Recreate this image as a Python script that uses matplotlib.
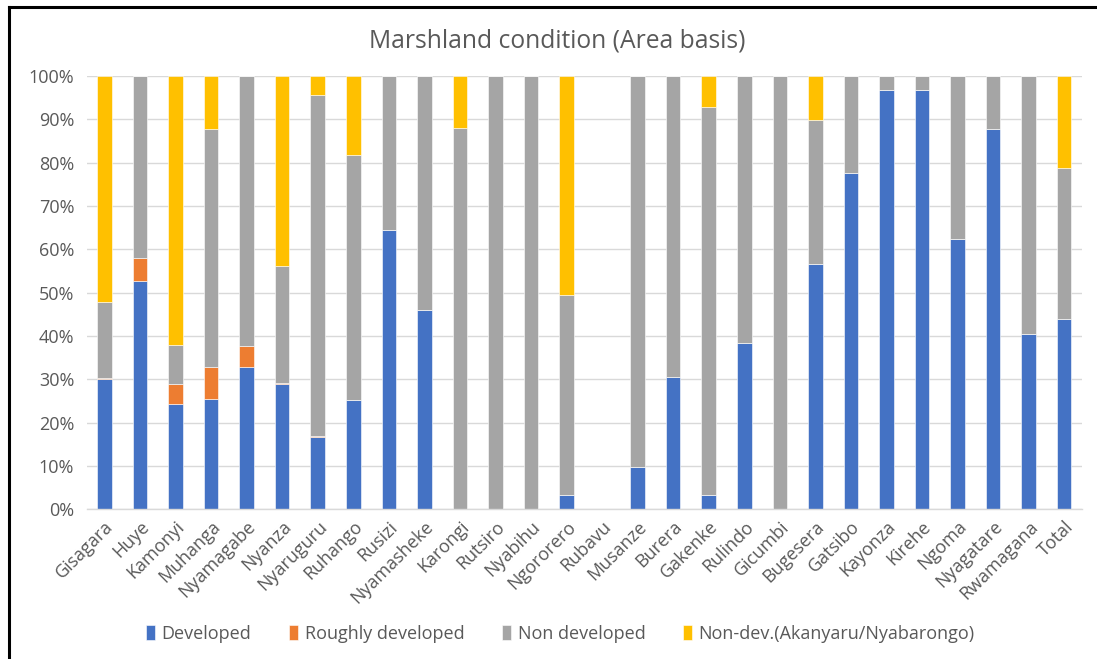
import matplotlib.pyplot as plt
import numpy as np
from matplotlib.lines import Line2D

# --- Data (percent of marshland area) ---
districts = ['Gisagara', 'Huye', 'Kamonyi', 'Muhanga', 'Nyamagabe', 'Nyanza',
             'Nyaruguru', 'Ruhango', 'Rusizi', 'Nyamasheke', 'Karongi', 'Rutsiro',
             'Nyabihu', 'Ngororero', 'Rubavu', 'Musanze', 'Burera', 'Gakenke',
             'Rulindo', 'Gicumbi', 'Bugesera', 'Gatsibo', 'Kayonza', 'Kirehe',
             'Ngoma', 'Nyagatare', 'Rwamagana', 'Total']

developed = [30.0, 52.6, 24.2, 25.5, 32.8, 28.9, 16.6, 25.3, 64.4, 46.1, 0.0, 0.0,
             0.0, 3.4, 0.0, 9.8, 30.6, 3.4, 38.4, 0.0, 56.5, 77.5, 96.8, 96.8,
             62.3, 87.8, 40.5, 43.8]
roughly = [0.3, 5.4, 4.7, 7.3, 4.9, 0.3, 0.3, 0.0, 0.0, 0.0, 0.0, 0.0,
           0.0, 0.0, 0.0, 0.0, 0.0, 0.0, 0.0, 0.0, 0.0, 0.0, 0.0, 0.0,
           0.0, 0.0, 0.0, 0.0]
non_developed = [17.6, 42.0, 8.9, 55.0, 62.3, 27.0, 78.6, 56.5, 35.6, 53.9, 88.1, 100.0,
                 100.0, 46.1, 0.0, 90.2, 69.4, 89.5, 61.6, 100.0, 33.3, 22.5, 3.2, 3.2,
                 37.7, 12.2, 59.5, 35.0]
non_dev_river = [52.1, 0.0, 62.2, 12.2, 0.0, 43.8, 4.5, 18.2, 0.0, 0.0, 11.9, 0.0,
                 0.0, 50.5, 0.0, 0.0, 0.0, 7.1, 0.0, 0.0, 10.2, 0.0, 0.0, 0.0,
                 0.0, 0.0, 0.0, 21.2]

series_names = ['Developed', 'Roughly developed', 'Non developed',
                'Non-dev.(Akanyaru/Nyabarongo)']
colors = ['#4472C4', '#ED7D31', '#A5A5A5', '#FFC000']

plt.rcParams['font.family'] = ['Open Sans', 'DejaVu Sans']
text_color = '#595959'

fig = plt.figure(figsize=(10.97, 6.59), dpi=100)
ax = fig.add_axes([0.079, 0.2272, 0.9073, 0.6575])

x = np.arange(len(districts))
bottom = np.zeros(len(districts))
for vals, name, col in zip([developed, roughly, non_developed, non_dev_river],
                           series_names, colors):
    vals = np.array(vals)
    ax.bar(x, vals, 0.41, bottom=bottom, color=col, label=name,
           edgecolor='white', linewidth=0.4, zorder=3)
    bottom += vals

ax.set_xlim(-0.5, len(districts) - 0.5)
ax.set_ylim(0, 100)
ax.set_yticks(np.arange(0, 101, 10))
ax.set_yticklabels([f'{v}%' for v in range(0, 101, 10)])
ax.grid(axis='y', color='#D9D9D9', linewidth=1.0, zorder=0)
for side in ['top', 'right', 'left']:
    ax.spines[side].set_visible(False)
ax.spines['bottom'].set_color('#D9D9D9')
ax.spines['bottom'].set_linewidth(1.0)
ax.spines['bottom'].set_zorder(4)
ax.tick_params(axis='both', length=0, colors=text_color, labelsize=13)
ax.tick_params(axis='y', pad=9)
ax.set_xticks(x)
ax.set_xticklabels(districts, rotation=45, ha='right', rotation_mode='anchor',
                   fontsize=13)
ax.tick_params(axis='x', pad=6)

fig.text(0.508, 0.938, 'Marshland condition (Area basis)', ha='center', va='center',
         fontsize=17.7, color=text_color)

handles, labels = ax.get_legend_handles_labels()
leg = fig.legend(handles, labels, loc='center', bbox_to_anchor=(0.511, 0.038), ncol=4,
                 frameon=False, fontsize=13, handlelength=0.5, handleheight=0.9,
                 handletextpad=0.35, columnspacing=2.1)
for t in leg.get_texts():
    t.set_color(text_color)

# chart-area border (top and left edges visible)
fig.add_artist(Line2D([0.0078, 1.0], [0.9895, 0.9895], color='black', linewidth=2.2,
                      transform=fig.transFigure))
fig.add_artist(Line2D([0.0082, 0.0082], [0.0, 0.9895], color='black', linewidth=2.2,
                      transform=fig.transFigure))

fig.savefig('out.png', dpi=100)
